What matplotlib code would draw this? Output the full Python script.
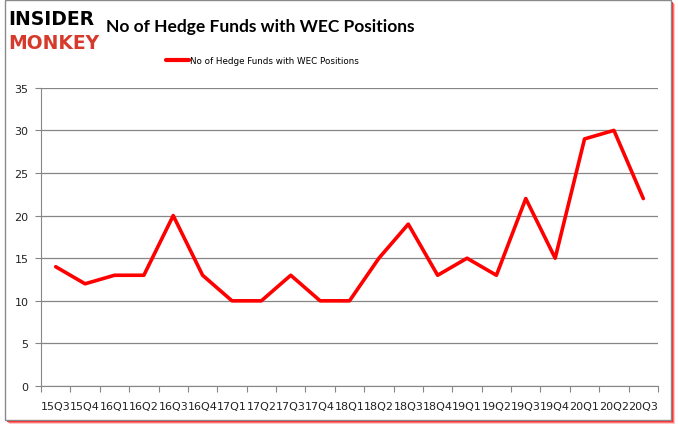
# Hedge fund positions in WEC, quarterly line chart

import matplotlib.pyplot as plt
from matplotlib.patches import Rectangle

quarters = ["15Q3", "15Q4", "16Q1", "16Q2", "16Q3", "16Q4", "17Q1", "17Q2",
            "17Q3", "17Q4", "18Q1", "18Q2", "18Q3", "18Q4", "19Q1", "19Q2",
            "19Q3", "19Q4", "20Q1", "20Q2", "20Q3"]
funds = [14, 12, 13, 13, 20, 13, 10, 10, 13, 10, 10, 15, 19, 13, 15, 13,
         22, 15, 29, 30, 22]
y_ticks = [0, 5, 10, 15, 20, 25, 30, 35]

label = "No of Hedge Funds with WEC Positions"

fig = plt.figure(figsize=(6.78, 4.31), dpi=100)

# frame with soft red shadow (drawn behind the axes)
for off, a in [(4, 0.25), (3, 0.5), (2, 0.9)]:
    fig.patches.append(Rectangle(((5 + off) / 678, 1 - (421 + off) / 431),
                                 666 / 678, 420 / 431, transform=fig.transFigure,
                                 fc="#ff2020", ec="none", alpha=a, zorder=-3))
fig.patches.append(Rectangle((5 / 678, 1 - 421 / 431), 666 / 678, 420 / 431,
                             transform=fig.transFigure, fc="white",
                             ec="#8a8a8a", lw=1, zorder=-2))

ax = fig.add_axes([0.0605, 0.102, 0.910, 0.692])
ax.patch.set_alpha(0)

x = list(range(len(quarters)))
ax.plot(x, funds, color="#ff0000", lw=2.6, solid_joinstyle="round",
        solid_capstyle="round", label=label)

ax.set_xlim(-0.5, len(quarters) - 0.5)
ax.set_ylim(0, 35)
ax.set_yticks(y_ticks)
ax.yaxis.grid(True, color="#868686", lw=0.9)
ax.set_axisbelow(True)

# excel style: category ticks between labels
ax.set_xticks([i - 0.5 for i in range(len(quarters) + 1)])
ax.set_xticklabels([])
ax.set_xticks(x, minor=True)
ax.set_xticklabels(quarters, minor=True, fontsize=8, color="#222222")
ax.tick_params(axis="x", which="minor", length=0, pad=11)
ax.tick_params(axis="x", which="major", length=4, color="#868686", direction="out")
ax.tick_params(axis="y", length=4, color="#868686", labelsize=8,
               labelcolor="#222222", pad=5)

for s in ["top", "right"]:
    ax.spines[s].set_visible(False)
for s in ["left", "bottom"]:
    ax.spines[s].set_color("#868686")

fig.text(0.384, 0.938, label, ha="center", va="center", fontsize=12.5,
         fontweight="bold", family="Lato")
leg = fig.legend(loc="center", bbox_to_anchor=(0.387, 0.857), frameon=False,
                 fontsize=6.3, handlelength=2.6, handletextpad=0.1)
leg.get_lines()[0].set_linewidth(3)

# logo
fig.text(0.012, 0.955, "INSIDER", fontsize=13.5, fontweight="heavy",
         color="black", va="center", family="DejaVu Sans")
fig.text(0.012, 0.900, "MONKEY", fontsize=13.5, fontweight="heavy",
         color="#d63a2a", va="center", family="DejaVu Sans")

fig.savefig("out.png", dpi=100)
